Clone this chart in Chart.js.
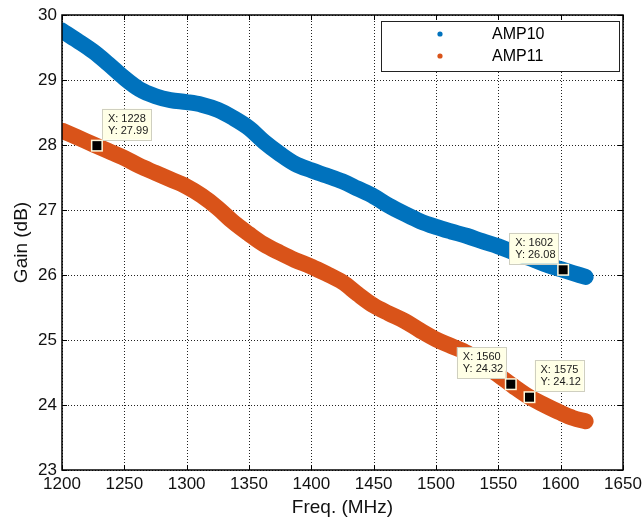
<!DOCTYPE html>
<html><head><meta charset="utf-8">
<script src="https://cdn.jsdelivr.net/npm/chart.js@4/dist/chart.umd.min.js"></script>
<style>html,body{margin:0;padding:0;background:#fff;}#wrap{width:643px;height:523px;position:relative;}</style>
</head><body><div id="wrap"><canvas id="c" width="643" height="523"></canvas></div>
<script>
// ---- data ----
const freqs = [1200,1212,1225,1237,1250,1262,1275,1287,1300,1312,1325,1337,1350,1362,1375,1387,1400,1412,1425,1437,1450,1462,1475,1487,1500,1512,1525,1537,1550,1562,1575,1587,1600,1610,1620];
const amp10 = [29.76,29.61,29.44,29.25,29.03,28.86,28.75,28.69,28.66,28.62,28.54,28.42,28.26,28.05,27.86,27.71,27.61,27.53,27.44,27.33,27.21,27.07,26.94,26.83,26.74,26.67,26.60,26.52,26.44,26.35,26.26,26.17,26.09,26.03,25.97];
const amp11 = [28.22,28.12,28.01,27.91,27.80,27.68,27.57,27.47,27.36,27.22,27.03,26.82,26.63,26.47,26.34,26.23,26.13,26.02,25.89,25.71,25.53,25.41,25.29,25.15,25.01,24.91,24.80,24.64,24.46,24.29,24.12,24.00,23.88,23.80,23.75];
const seriesNames = ['AMP10','AMP11'];
const xTicks = [1200,1250,1300,1350,1400,1450,1500,1550,1600,1650];
const yTicks = [23,24,25,26,27,28,29,30];
const tipX = [1228,1602,1560,1575];
const tipY = [27.99,26.08,24.32,24.12];
const xTitle = 'Freq. (MHz)';
const yTitle = 'Gain (dB)';

const FONT = '"Liberation Sans", Arial, sans-serif';
const BLUE = '#0072BD', ORANGE = '#D95319';

const toPts = (xs, ys) => xs.map((x, i) => ({x, y: ys[i]}));

const grid = {
  id: 'dotgrid',
  beforeDatasetsDraw(chart) {
    const {ctx, chartArea: a, scales: {x, y}} = chart;
    ctx.save();
    ctx.strokeStyle = '#222'; ctx.lineWidth = 1;
    ctx.setLineDash([1, 2]);
    ctx.beginPath();
    xTicks.forEach(v => {
      const px = Math.round(x.getPixelForValue(v)) + 0.5;
      ctx.moveTo(px, a.top); ctx.lineTo(px, a.bottom);
    });
    yTicks.forEach(v => {
      const py = Math.round(y.getPixelForValue(v)) + 0.5;
      ctx.moveTo(a.left, py); ctx.lineTo(a.right, py);
    });
    ctx.stroke();
    ctx.restore();
  }
};

const decor = {
  id: 'decor',
  afterDraw(chart, args, opts) {
    const {ctx, chartArea: a, scales: {x, y}} = chart;
    ctx.save();
    // inner ticks
    ctx.strokeStyle = '#000'; ctx.lineWidth = 1;
    ctx.beginPath();
    xTicks.forEach(v => {
      const px = Math.round(x.getPixelForValue(v)) + 0.5;
      ctx.moveTo(px, a.bottom); ctx.lineTo(px, a.bottom - 5);
      ctx.moveTo(px, a.top); ctx.lineTo(px, a.top + 5);
    });
    yTicks.forEach(v => {
      const py = Math.round(y.getPixelForValue(v)) + 0.5;
      ctx.moveTo(a.left, py); ctx.lineTo(a.left + 5, py);
      ctx.moveTo(a.right, py); ctx.lineTo(a.right - 5, py);
    });
    ctx.stroke();
    // frame
    ctx.lineWidth = 1.5;
    ctx.strokeRect(a.left, a.top, a.right - a.left, a.bottom - a.top);

    // legend
    const L = opts.legend;
    ctx.fillStyle = '#fff';
    ctx.fillRect(L.x, L.y, L.w, L.h);
    ctx.lineWidth = 1; ctx.strokeStyle = '#222';
    ctx.strokeRect(L.x + 0.5, L.y + 0.5, L.w, L.h);
    ctx.font = '16px ' + FONT;
    ctx.textBaseline = 'middle'; ctx.textAlign = 'left';
    chart.data.datasets.forEach((ds, i) => {
      const cy = L.y + L.row0 + i * L.rowGap;
      ctx.fillStyle = ds.borderColor;
      ctx.beginPath(); ctx.arc(L.x + L.mark, cy, 2.6, 0, Math.PI * 2); ctx.fill();
      ctx.fillStyle = '#000';
      ctx.fillText(ds.label, L.x + L.text, cy + 1);
    });

    // data tips
    const T = opts.tips;
    tipX.forEach((tx, i) => {
      const mx = x.getPixelForValue(tx), my = y.getPixelForValue(tipY[i]);
      const dir = T.dir[i];
      const bx = dir === 'r' ? mx + 5 : mx - 5 - T.w;
      const by = my - 6 - T.h;
      ctx.fillStyle = '#ffffe6';
      ctx.fillRect(bx, by, T.w, T.h);
      ctx.strokeStyle = '#cfcfc0'; ctx.lineWidth = 1;
      ctx.strokeRect(Math.round(bx) + 0.5, Math.round(by) + 0.5, T.w, T.h);
      ctx.fillStyle = '#1a1a1a';
      ctx.font = '11px ' + FONT;
      ctx.textAlign = 'left'; ctx.textBaseline = 'middle';
      ctx.fillText('X: ' + tx, bx + 6, by + 10);
      ctx.fillText('Y: ' + tipY[i].toFixed(2), bx + 6, by + 22);
      // marker
      ctx.fillStyle = '#fff8dc';
      ctx.fillRect(mx - 6, my - 6, 12, 12);
      ctx.fillStyle = '#000';
      ctx.fillRect(mx - 4.5, my - 4.5, 9, 9);
    });
    ctx.restore();
  }
};

new Chart(document.getElementById('c'), {
  type: 'line',
  data: {
    datasets: [
      {label: seriesNames[0], data: toPts(freqs, amp10), borderColor: BLUE, backgroundColor: BLUE},
      {label: seriesNames[1], data: toPts(freqs, amp11), borderColor: ORANGE, backgroundColor: ORANGE}
    ]
  },
  options: {
    responsive: false,
    animation: false,
    devicePixelRatio: 1,
    layout: {padding: {top: 15, right: 20, left: 0, bottom: 0}},
    elements: {
      point: {radius: 0, hoverRadius: 0},
      line: {borderWidth: 16, borderCapStyle: 'round', borderJoinStyle: 'round', tension: 0.35, fill: false}
    },
    plugins: {
      legend: {display: false},
      tooltip: {enabled: false},
      decor: {
        legend: {x: 381, y: 21, w: 238, h: 50, mark: 59, text: 111, row0: 13, rowGap: 22},
        tips: {w: 49, h: 31, dir: ['r', 'l', 'l', 'r']}
      }
    },
    scales: {
      x: {
        type: 'linear', min: 1200, max: 1650,
        afterBuildTicks: s => { s.ticks = xTicks.map(v => ({value: v})); },
        afterFit: s => { s.height = 53; s.paddingLeft = 0; s.paddingRight = 0; },
        ticks: {font: {size: 17, family: FONT}, color: '#111', padding: 4, maxRotation: 0, autoSkip: false, callback: v => String(v)},
        grid: {display: false, drawTicks: false, tickLength: 0},
        border: {display: false},
        title: {display: true, text: xTitle, font: {size: 19, family: FONT}, color: '#111', padding: {top: 0, bottom: 4}}
      },
      y: {
        type: 'linear', min: 23, max: 30,
        afterBuildTicks: s => { s.ticks = yTicks.map(v => ({value: v})); },
        afterFit: s => { s.width = 62; s.paddingTop = 0; s.paddingBottom = 0; },
        ticks: {font: {size: 17, family: FONT}, color: '#111', padding: 5, callback: v => String(v)},
        grid: {display: false, drawTicks: false, tickLength: 0},
        border: {display: false},
        title: {display: true, text: yTitle, font: {size: 19, family: FONT}, color: '#111', padding: {top: 10, bottom: 0}}
      }
    }
  },
  plugins: [grid, decor]
});
</script></body></html>
